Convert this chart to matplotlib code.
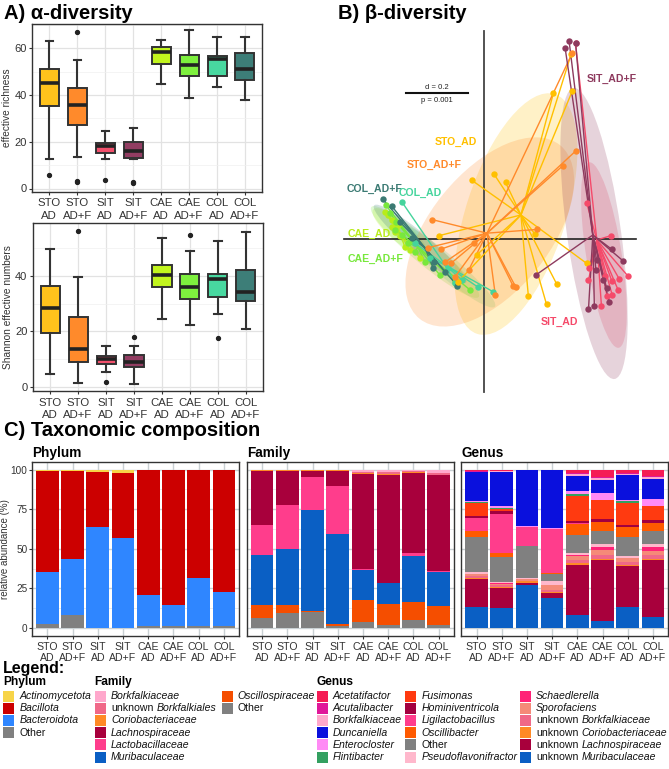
import matplotlib
matplotlib.use('Agg')
import matplotlib.pyplot as plt
from matplotlib.patches import Ellipse, Rectangle
from matplotlib.ticker import MultipleLocator

plt.rcParams['font.family'] = ['Liberation Sans', 'DejaVu Sans']

# ---------------- data ----------------
groups = ['STO AD', 'STO AD+F', 'SIT AD', 'SIT AD+F', 'CAE AD', 'CAE AD+F', 'COL AD', 'COL AD+F']
tick_labels = ['STO\nAD', 'STO\nAD+F', 'SIT\nAD', 'SIT\nAD+F', 'CAE\nAD', 'CAE\nAD+F', 'COL\nAD', 'COL\nAD+F']
group_colors = ['#FFC21C', '#FF8A2B', '#F2506C', '#923D62', '#C2F51E', '#7EF03E', '#48D8A0', '#3D7E78']

# effective richness boxplot statistics
rich_whislo = [12.8, 13.7, 12.8, 12.8, 44.8, 38.8, 43.7, 37.8]
rich_q1 = [35.2, 27.2, 15.1, 12.9, 53.2, 48.1, 48.1, 46.7]
rich_med = [45.0, 35.8, 18.2, 16.1, 58.5, 53.0, 55.3, 51.0]
rich_q3 = [51.3, 43.0, 19.4, 20.0, 60.5, 57.3, 56.9, 58.0]
rich_whishi = [63.0, 54.9, 24.6, 25.9, 63.8, 68.1, 65.0, 65.0]
rich_fliers = [[5.7], [67.0, 3.4, 2.6], [3.6], [2.2, 3.0], [], [], [], []]

# Shannon effective numbers boxplot statistics
shan_whislo = [4.6, 1.4, 5.4, 1.1, 24.4, 22.2, 26.3, 20.9]
shan_q1 = [19.3, 9.1, 8.1, 7.0, 35.8, 31.6, 32.2, 31.0]
shan_med = [28.2, 13.7, 10.0, 9.0, 40.2, 35.9, 38.7, 34.3]
shan_q3 = [36.4, 25.2, 11.0, 11.5, 43.7, 40.7, 40.7, 42.0]
shan_whishi = [49.5, 39.4, 14.6, 14.8, 53.6, 49.0, 52.6, 55.8]
shan_fliers = [[], [56.1], [1.9], [17.8], [], [54.8], [17.4], []]

# beta diversity (PCoA coordinates)
pcoa_groups = ['CAE_AD', 'CAE_AD+F', 'COL_AD', 'COL_AD+F', 'STO_AD', 'STO_AD+F', 'SIT_AD', 'SIT_AD+F']
pcoa_colors = {'STO_AD': '#FFC000', 'STO_AD+F': '#FF8A2B', 'SIT_AD': '#F54A6A', 'SIT_AD+F': '#8E3A5E',
               'CAE_AD': '#B8EC1A', 'CAE_AD+F': '#78E83C', 'COL_AD': '#45D49C', 'COL_AD+F': '#3B7A73'}
sto_ad_pts = [(0.287, 0.481), (0.225, 0.472), (0.033, 0.210), (0.070, 0.184), (-0.040, 0.191),
              (-0.145, 0.011), (0.165, 0.016), (-0.024, -0.052), (-0.083, -0.138), (0.333, -0.079),
              (0.236, -0.146), (0.144, -0.184), (0.203, -0.212), (0.283, 0.600)]
sto_adf_pts = [(0.286, 0.602), (0.297, 0.285), (0.256, 0.238), (-0.168, 0.063), (0.171, 0.031),
               (-0.032, -0.014), (-0.140, -0.033), (-0.107, -0.079), (0.094, -0.151), (0.104, -0.157),
               (0.037, -0.182), (-0.180, -0.028), (-0.049, -0.100), (-0.126, -0.075), (-0.094, -0.123)]
sit_ad_pts = [(0.412, 0.011), (0.466, -0.119), (0.439, -0.130), (0.435, -0.165), (0.416, -0.182),
              (0.381, -0.217), (0.339, -0.134), (0.341, -0.095), (0.415, -0.137), (0.393, -0.119),
              (0.333, 0.118), (0.297, 0.635), (0.399, -0.185)]
sit_adf_pts = [(0.263, 0.621), (0.276, 0.643), (0.297, 0.636), (0.339, -0.228), (0.358, -0.217),
               (0.450, -0.070), (0.414, -0.033), (0.168, -0.117), (0.363, -0.100), (0.387, -0.133),
               (0.398, -0.160), (0.406, -0.203), (0.365, -0.068)]
cae_ad_pts = [(-0.321, 0.088), (-0.311, 0.078), (-0.298, 0.062), (-0.299, 0.038), (-0.288, 0.023),
              (-0.272, 0.010), (-0.256, -0.027), (-0.240, -0.036), (-0.207, -0.062), (-0.279, 0.045)]
cae_adf_pts = [(-0.318, 0.110), (-0.305, 0.084), (-0.285, 0.055), (-0.266, 0.013), (-0.246, -0.013),
               (-0.224, -0.042), (-0.191, -0.075), (-0.143, -0.117), (-0.094, -0.139), (-0.045, -0.165),
               (-0.288, 0.029)]
col_ad_pts = [(-0.265, 0.119), (0.030, -0.171), (-0.019, -0.156), (-0.071, -0.133), (-0.117, -0.094),
              (-0.175, -0.062), (-0.224, -0.013), (-0.094, -0.143)]
col_adf_pts = [(-0.328, 0.129), (-0.299, 0.107), (-0.272, 0.055), (-0.233, 0.003), (-0.164, -0.095),
               (-0.126, -0.107), (-0.086, -0.152), (-0.162, -0.075)]
pcoa_points = {'STO_AD': sto_ad_pts, 'STO_AD+F': sto_adf_pts, 'SIT_AD': sit_ad_pts, 'SIT_AD+F': sit_adf_pts,
               'CAE_AD': cae_ad_pts, 'CAE_AD+F': cae_adf_pts, 'COL_AD': col_ad_pts, 'COL_AD+F': col_adf_pts}
pcoa_centroids = {'STO_AD': (0.120, 0.078), 'STO_AD+F': (0.010, 0.019), 'SIT_AD': (0.366, -0.003),
                  'SIT_AD+F': (0.353, 0.013), 'CAE_AD': (-0.272, 0.019), 'CAE_AD+F': (-0.214, -0.026),
                  'COL_AD': (-0.126, -0.084), 'COL_AD+F': (-0.191, -0.029)}
# ellipse: centre x, centre y, width, height, angle
pcoa_ellipses = {'STO_AD+F': (0.019, 0.023, 0.724, 0.389, 51),
                 'STO_AD': (0.104, 0.081, 0.817, 0.324, 72),
                 'SIT_AD+F': (0.357, 0.018, 0.953, 0.175, 98),
                 'SIT_AD': (0.389, -0.052, 0.609, 0.115, 99),
                 'CAE_AD': (-0.272, 0.023, 0.227, 0.065, -40),
                 'CAE_AD+F': (-0.191, -0.042, 0.454, 0.078, -40),
                 'COL_AD': (-0.126, -0.084, 0.421, 0.071, -40),
                 'COL_AD+F': (-0.207, -0.016, 0.389, 0.065, -40)}
pcoa_label_pos = {'SIT_AD+F': (0.334, 0.519), 'STO_AD': (-0.159, 0.315), 'STO_AD+F': (-0.251, 0.240),
                  'COL_AD+F': (-0.445, 0.164), 'COL_AD': (-0.278, 0.148), 'CAE_AD': (-0.443, 0.018),
                  'CAE_AD+F': (-0.443, -0.066), 'SIT_AD': (0.184, -0.270)}

# taxonomic composition (bottom -> top stacking order)
phylum_names = ['Other', 'Bacteroidota', 'Bacillota', 'Actinomycetota']
phylum_colors = ['#808080', '#2F86FF', '#CC0000', '#F7D448']
phylum_other = [2.7, 8.0, 0.3, 0.2, 1.0, 1.0, 1.0, 1.0]
phylum_bacteroidota = [32.4, 35.3, 63.5, 56.7, 19.6, 13.5, 30.8, 21.5]
phylum_bacillota = [64.3, 55.6, 34.5, 41.0, 78.9, 85.0, 67.7, 77.0]
phylum_actinomycetota = [0.6, 1.1, 1.7, 2.1, 0.5, 0.5, 0.5, 0.5]
phylum_values = [phylum_other, phylum_bacteroidota, phylum_bacillota, phylum_actinomycetota]

family_names = ['Other', 'Oscillospiraceae', 'Muribaculaceae', 'Lactobacillaceae', 'Lachnospiraceae',
                'Coriobacteriaceae', 'unknown Borkfalkiales', 'Borkfalkiaceae']
family_colors = ['#808080', '#F54E00', '#0A5FC4', '#FF3D8C', '#A8003C', '#FF8A26', '#F06888', '#FFA8CC']
family_other = [6.3, 9.5, 10.1, 1.6, 3.8, 2.1, 4.8, 2.1]
family_oscillospiraceae = [8.4, 5.2, 0.5, 0.9, 13.9, 13.1, 11.4, 12.0]
family_muribaculaceae = [31.6, 35.0, 63.7, 56.9, 18.7, 13.2, 29.0, 21.3]
family_lactobacillaceae = [19.0, 28.2, 20.8, 30.1, 0.7, 0.1, 1.9, 0.6]
family_lachnospiraceae = [34.1, 21.0, 4.3, 9.4, 60.2, 68.3, 50.8, 60.4]
family_coriobacteriaceae = [0.3, 0.6, 0.4, 0.8, 0.3, 0.2, 0.3, 0.3]
family_unk_borkfalkiales = [0.2, 0.3, 0.1, 0.2, 1.0, 1.2, 0.8, 1.3]
family_borkfalkiaceae = [0.1, 0.2, 0.1, 0.1, 1.4, 1.8, 1.0, 2.0]
family_values = [family_other, family_oscillospiraceae, family_muribaculaceae, family_lactobacillaceae,
                 family_lachnospiraceae, family_coriobacteriaceae, family_unk_borkfalkiales,
                 family_borkfalkiaceae]

genus_names = ['unknown Muribaculaceae', 'unknown Lachnospiraceae', 'unknown Coriobacteriaceae',
               'unknown Borkfalkiaceae', 'Sporofaciens', 'Schaedlerella', 'Pseudoflavonifractor', 'Other',
               'Oscillibacter', 'Ligilactobacillus', 'Hominiventricola', 'Fusimonas', 'Flintibacter',
               'Enterocloster', 'Duncaniella', 'Borkfalkiaceae', 'Acutalibacter', 'Acetatifactor']
genus_colors = ['#0A5FC4', '#A8003C', '#FF8A26', '#F06888', '#F58A78', '#FF2277', '#FFB8CC', '#808080',
                '#FF5A00', '#FF3D8C', '#A3003F', '#FF3A10', '#33A060', '#FF8AF5', '#0A10DD', '#FFA8CC',
                '#E0189A', '#F51C55']
genus_unk_muribaculaceae = [13.5, 12.6, 26.9, 18.7, 8.0, 4.2, 13.0, 7.3]
genus_unk_lachnospiraceae = [17.6, 12.7, 1.5, 3.3, 32.0, 38.9, 25.9, 35.4]
genus_unk_coriobacteriaceae = [0.8, 0.5, 1.0, 1.0, 0.8, 0.8, 0.8, 0.8]
genus_unk_borkfalkiaceae = [1.0, 1.2, 0.5, 1.0, 2.0, 2.5, 2.0, 2.5]
genus_sporofaciens = [1.0, 1.0, 1.0, 3.0, 2.5, 3.0, 2.5, 2.4]
genus_schaedlerella = [0.5, 0.3, 0.2, 0.5, 1.0, 1.5, 0.3, 2.5]
genus_pseudoflavonifractor = [1.2, 0.5, 0.5, 2.0, 1.1, 2.4, 1.0, 2.0]
genus_other = [22.0, 15.8, 19.9, 4.8, 11.5, 8.2, 12.0, 8.2]
genus_oscillibacter = [3.8, 2.5, 0.3, 0.2, 7.0, 5.5, 6.1, 5.0]
genus_ligilactobacillus = [8.0, 25.1, 12.0, 28.0, 0.2, 0.1, 0.1, 0.1]
genus_hominiventricola = [1.5, 1.5, 0.1, 0.1, 1.7, 2.0, 1.6, 2.0]
genus_fusimonas = [7.8, 1.5, 0.1, 0.1, 15.3, 11.5, 13.7, 8.6]
genus_flintibacter = [1.0, 0.5, 0.1, 0.1, 1.7, 0.5, 1.1, 0.5]
genus_enterocloster = [0.6, 1.5, 0.1, 0.1, 1.9, 4.2, 0.5, 4.4]
genus_duncaniella = [18.0, 21.4, 35.6, 37.0, 9.5, 8.4, 16.2, 12.6]
genus_borkfalkiaceae = [0.5, 0.3, 0.1, 0.0, 1.1, 1.0, 0.5, 1.0]
genus_acutalibacter = [0.5, 0.3, 0.0, 0.0, 0.5, 0.8, 0.4, 0.7]
genus_acetatifactor = [0.7, 0.8, 0.1, 0.1, 2.2, 4.5, 2.3, 4.0]
genus_values = [genus_unk_muribaculaceae, genus_unk_lachnospiraceae, genus_unk_coriobacteriaceae,
                genus_unk_borkfalkiaceae, genus_sporofaciens, genus_schaedlerella, genus_pseudoflavonifractor,
                genus_other, genus_oscillibacter, genus_ligilactobacillus, genus_hominiventricola,
                genus_fusimonas, genus_flintibacter, genus_enterocloster, genus_duncaniella,
                genus_borkfalkiaceae, genus_acutalibacter, genus_acetatifactor]

phylum_legend = ['Actinomycetota', 'Bacillota', 'Bacteroidota', 'Other']
family_legend = ['Borkfalkiaceae', 'unknown Borkfalkiales', 'Coriobacteriaceae', 'Lachnospiraceae',
                 'Lactobacillaceae', 'Muribaculaceae', 'Oscillospiraceae', 'Other']
genus_legend = ['Acetatifactor', 'Acutalibacter', 'Borkfalkiaceae', 'Duncaniella', 'Enterocloster',
                'Flintibacter', 'Fusimonas', 'Hominiventricola', 'Ligilactobacillus', 'Oscillibacter', 'Other',
                'Pseudoflavonifractor', 'Schaedlerella', 'Sporofaciens', 'unknown Borkfalkiaceae',
                'unknown Coriobacteriaceae', 'unknown Lachnospiraceae', 'unknown Muribaculaceae']

# ---------------- figure ----------------
W, H = 669, 769
fig = plt.figure(figsize=(W / 100, H / 100), dpi=100)


def px_axes(l, t, r, b):
    return fig.add_axes([l / W, 1 - b / H, (r - l) / W, (b - t) / H])


DARK = '#333333'
TXT = '#333333'
positions = list(range(1, 9))


def box_panel(ax, whislo, q1, med, q3, whishi, fliers, ylim, yticks, minor, ylabel):
    stats = []
    for i in range(8):
        stats.append(dict(whislo=whislo[i], q1=q1[i], med=med[i], q3=q3[i], whishi=whishi[i],
                          fliers=fliers[i]))
    ax.set_axisbelow(True)
    bp = ax.bxp(stats, positions=positions, widths=0.68, patch_artist=True, capwidths=0.26,
                boxprops=dict(edgecolor=DARK, linewidth=1.4),
                medianprops=dict(color='#222222', linewidth=2.6, solid_capstyle='butt'),
                whiskerprops=dict(color=DARK, linewidth=1.5),
                capprops=dict(color=DARK, linewidth=1.5),
                flierprops=dict(marker='o', markerfacecolor='#222222', markeredgecolor='#222222',
                                markersize=2.8, linestyle='none'))
    for patch, c in zip(bp['boxes'], group_colors):
        patch.set_facecolor(c)
    ax.set_xlim(0.39, 8.61)
    ax.set_ylim(*ylim)
    ax.set_yticks(yticks)
    ax.yaxis.set_minor_locator(MultipleLocator(minor))
    ax.set_xticks(positions)
    ax.set_xticklabels(tick_labels, fontsize=8.2, color=TXT, linespacing=1.3)
    ax.tick_params(axis='y', labelsize=8.0, labelcolor=TXT, length=2.5, color=DARK, width=0.8, pad=1.5)
    ax.tick_params(axis='x', length=2.5, color=DARK, width=0.8, pad=2)
    ax.tick_params(which='minor', length=0)
    ax.grid(True, which='major', color='#E2E2E2', linewidth=0.9)
    ax.grid(True, which='minor', axis='y', color='#F0F0F0', linewidth=0.5)
    for s in ax.spines.values():
        s.set_color(DARK)
        s.set_linewidth(1.0)
    ax.set_ylabel(ylabel, fontsize=7.3, color=TXT, labelpad=1.5)


ax_a1 = px_axes(32.3, 24, 262, 192)
box_panel(ax_a1, rich_whislo, rich_q1, rich_med, rich_q3, rich_whishi, rich_fliers,
          (-1.5, 70.5), [0, 20, 40, 60], 10, 'effective richness')
ax_a2 = px_axes(33, 223, 263, 391.5)
box_panel(ax_a2, shan_whislo, shan_q1, shan_med, shan_q3, shan_whishi, shan_fliers,
          (-1.7, 59), [0, 20, 40], 10, 'Shannon effective numbers')

# ---- B ----
ax_b = px_axes(330, 25, 669, 400)
ax_b.set_xlim(-0.499, 0.600)
ax_b.set_ylim(-0.522, 0.694)
ax_b.axis('off')
for g in pcoa_groups:
    cx, cy, w, h, ang = pcoa_ellipses[g]
    ax_b.add_patch(Ellipse((cx, cy), w, h, angle=ang, facecolor=pcoa_colors[g], edgecolor='none',
                           alpha=0.22, zorder=1))
ax_b.plot([0, 0], [0.674, -0.496], color='#444444', lw=1.3, zorder=2)
ax_b.plot([-0.454, 0.493], [0, 0], color='#222222', lw=1.2, zorder=2)
for g in pcoa_groups:
    c = pcoa_colors[g]
    cx, cy = pcoa_centroids[g]
    for (x, y) in pcoa_points[g]:
        ax_b.plot([cx, x], [cy, y], color=c, lw=1.0, zorder=3)
    xs = [p[0] for p in pcoa_points[g]]
    ys = [p[1] for p in pcoa_points[g]]
    ax_b.plot(xs, ys, 'o', color=c, ms=4.6, mec='none', zorder=4)
for g, (lx, ly) in pcoa_label_pos.items():
    ax_b.text(lx, ly, g, color=pcoa_colors[g], fontsize=7.6, fontweight='bold', ha='left', va='center',
              zorder=5)
ax_b.plot([-0.253, -0.053], [0.472, 0.472], color='#111111', lw=1.5, zorder=5)
ax_b.text(-0.153, 0.480, 'd = 0.2', fontsize=5.5, ha='center', va='bottom', color='#222222')
ax_b.text(-0.153, 0.462, 'p = 0.001', fontsize=5.5, ha='center', va='top', color='#222222')


# ---- C ----
def bar_panel(ax, values, colors, title, first):
    ax.set_axisbelow(True)
    bottom = [0.0] * 8
    for vals, col in zip(values, colors):
        ax.bar(positions, vals, bottom=bottom, width=0.9, color=col, edgecolor='none', zorder=2)
        bottom = [b + v for b, v in zip(bottom, vals)]
    ax.set_xlim(0.4, 8.6)
    ax.set_ylim(-5, 105)
    ax.set_xticks(positions)
    ax.set_xticklabels(tick_labels, fontsize=7.6, color=TXT, linespacing=1.15)
    ax.set_yticks([0, 25, 50, 75, 100])
    ax.yaxis.set_minor_locator(MultipleLocator(12.5))
    ax.tick_params(which='minor', length=0)
    ax.tick_params(axis='x', length=2.5, color=DARK, width=0.8, labelsize=7.6, labelcolor=TXT, pad=1.5)
    ax.tick_params(axis='y', length=2.5, color=DARK, width=0.8, labelsize=7.2, labelcolor=TXT, pad=1)
    ax.grid(True, which='major', color='#C9D0D3', linewidth=1.0)
    ax.grid(True, which='minor', axis='y', color='#E4E8EA', linewidth=0.6)
    for s in ax.spines.values():
        s.set_color(DARK)
        s.set_linewidth(1.0)
    ax.set_title(title, loc='left', fontsize=9.8, fontweight='bold', pad=3.5)
    if first:
        ax.set_ylabel('relative abundance (%)', fontsize=7.0, color=TXT, labelpad=0.5)
    else:
        ax.tick_params(axis='y', length=0, labelleft=False)


ax_c1 = px_axes(32.3, 461.7, 239, 636)
bar_panel(ax_c1, phylum_values, phylum_colors, 'Phylum', True)
ax_c2 = px_axes(247, 461.7, 453.7, 636)
bar_panel(ax_c2, family_values, family_colors, 'Family', False)
ax_c3 = px_axes(461.5, 461.7, 668, 636)
bar_panel(ax_c3, genus_values, genus_colors, 'Genus', False)

# ---- overlay: titles and legend ----
ov = fig.add_axes([0, 0, 1, 1])
ov.set_xlim(0, W)
ov.set_ylim(H, 0)
ov.axis('off')
ov.patch.set_alpha(0)
ov.text(4, 19, 'A) α-diversity', fontsize=14.5, fontweight='bold', va='baseline')
ov.text(338, 19, 'B) β-diversity', fontsize=14.5, fontweight='bold', va='baseline')
ov.text(4, 436, 'C) Taxonomic composition', fontsize=14.5, fontweight='bold', va='baseline')
ov.text(3, 669, 'Legend:', fontsize=11.5, fontweight='bold', va='center')
ov.text(3, 682, 'Phylum', fontsize=8.6, fontweight='bold', va='center')
ov.text(94.3, 682, 'Family', fontsize=8.6, fontweight='bold', va='center')
ov.text(316.7, 682, 'Genus', fontsize=8.6, fontweight='bold', va='center')

name_color = {}
for n, c in zip(phylum_names, phylum_colors):
    name_color[('p', n)] = c
for n, c in zip(family_names, family_colors):
    name_color[('f', n)] = c
for n, c in zip(genus_names, genus_colors):
    name_color[('g', n)] = c

ROW0, DY, SW = 696, 12.2, 11


def legend_item(x, y, label, color):
    ov.add_patch(Rectangle((x, y - SW / 2), SW, SW, facecolor=color, edgecolor='none'))
    tx = x + 16
    if label == 'Other':
        ov.text(tx, y, label, fontsize=7.6, va='center', color='#111111')
    elif label.startswith('unknown '):
        t1 = ov.text(tx, y, 'unknown', fontsize=7.6, va='center', color='#111111')
        ov.annotate(label[8:], xy=(1, 0), xycoords=t1, xytext=(2.1, 0), textcoords='offset points',
                    fontsize=7.6, style='italic', va='bottom', ha='left', color='#111111')
    else:
        ov.text(tx, y, label, fontsize=7.6, va='center', style='italic', color='#111111')


for i, n in enumerate(phylum_legend):
    legend_item(3.3, ROW0 + i * DY, n, name_color[('p', n)])
fam_cols = [95, 221.7]
for i, n in enumerate(family_legend):
    legend_item(fam_cols[i // 6], ROW0 + (i % 6) * DY, n, name_color[('f', n)])
gen_cols = [316.7, 405.3, 520]
for i, n in enumerate(genus_legend):
    legend_item(gen_cols[i // 6], ROW0 + (i % 6) * DY, n, name_color[('g', n)])

fig.savefig('out.png', dpi=100)
